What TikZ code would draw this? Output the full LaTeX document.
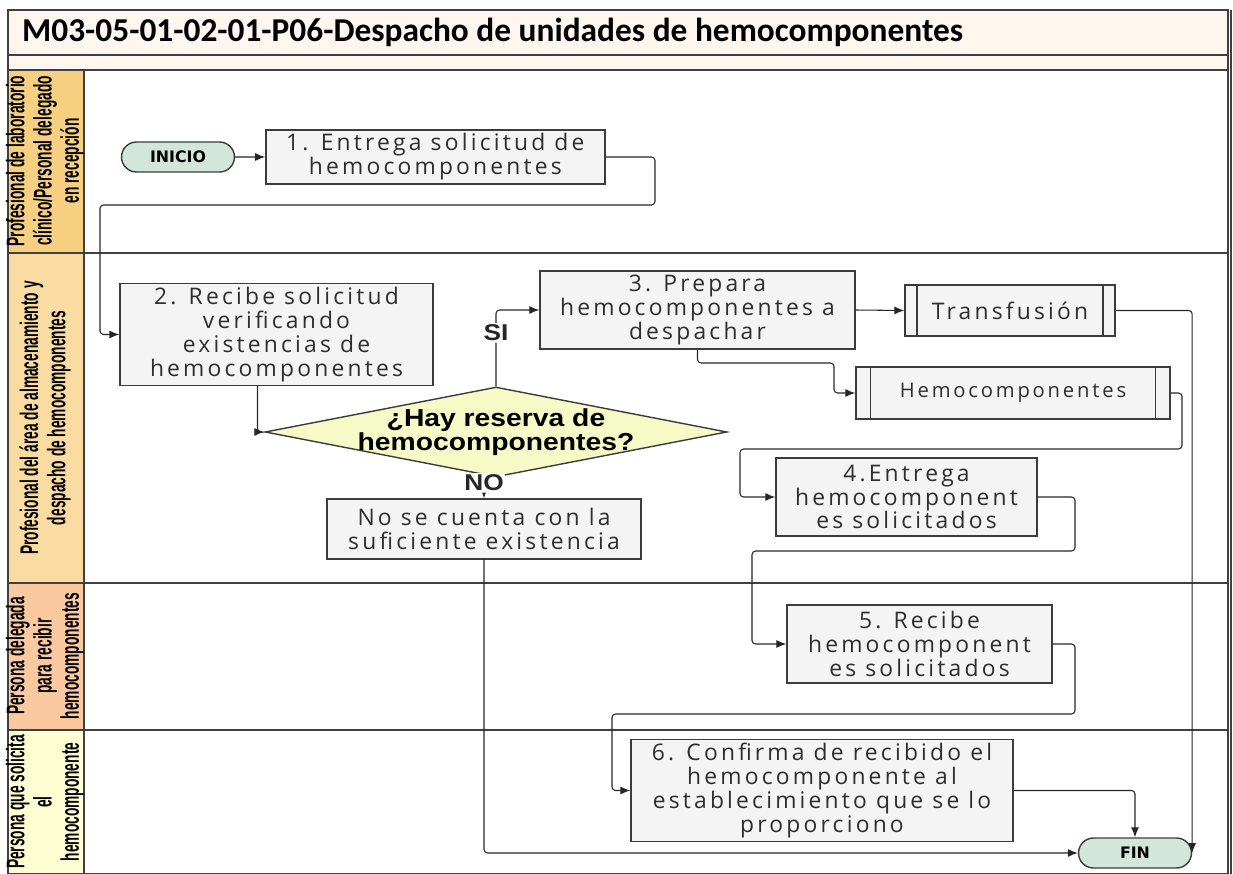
\documentclass[tikz,border=0pt]{standalone}
\usepackage{fontspec}
\setmainfont{Open Sans}
\newfontfamily\boxfont[LetterSpace=14]{Open Sans}
\newfontfamily\titlefont{Carlito}
\newfontfamily\lanefont[FakeStretch=0.54]{Liberation Sans}
\newfontfamily\decfont[FakeStretch=1.15]{Liberation Sans}
\newfontfamily\termfont{DejaVu Sans}
\usetikzlibrary{shapes.geometric, shapes.misc, arrows.meta, positioning, calc}
\definecolor{titlebg}{HTML}{FFF7EF}
\definecolor{laneone}{HTML}{F6CF80}
\definecolor{lanetwo}{HTML}{FADCA2}
\definecolor{lanethree}{HTML}{FBC9A0}
\definecolor{lanefour}{HTML}{FEFED2}
\definecolor{boxfill}{HTML}{F4F4F4}
\definecolor{boxline}{HTML}{3C3C3C}
\definecolor{decfill}{HTML}{F6FAC6}
\definecolor{termfill}{HTML}{D3E6DC}
\definecolor{boxtext}{HTML}{2E2E2E}

\begin{document}
\begin{tikzpicture}[
  x=0.02cm, y=-0.02cm,
  procbox/.style={
    rectangle, draw=boxline, fill=boxfill, line width=0.8pt,
    align=center, inner sep=2pt, text=boxtext,
    font=\boxfont\fontsize{13}{13.6}\selectfont
  },
  subproc/.style={procbox},
  termbox/.style={
    rounded rectangle, draw=boxline, fill=termfill, line width=0.8pt,
    minimum width=2.4cm, minimum height=0.6cm, inner sep=2pt,
    font=\termfont\bfseries\fontsize{9}{10}\selectfont
  },
  decbox/.style={
    diamond, draw=boxline, fill=decfill, line width=0.8pt, inner sep=0pt,
    minimum width=9.24cm, minimum height=1.8cm
  },
  lanelabel/.style={rotate=90, align=center, font=\lanefont\bfseries\fontsize{14.5}{15.5}\selectfont},
  answer/.style={fill=white, inner sep=1pt, font=\decfont\bfseries\fontsize{13}{14}\selectfont},
  arr/.style={-{Latex[length=2mm, width=1.6mm]}, black!85, line width=0.6pt, rounded corners=2pt},
  sepline/.style={draw=black!75, line width=0.6pt},
]
% Frame, title and lanes
\path[use as bounding box] (0,0) rectangle (1233,874);
\fill[titlebg] (8,10) rectangle (1228,70);
\fill[laneone] (8,70) rectangle (84,253);
\fill[lanetwo] (8,253) rectangle (84,583);
\fill[lanethree] (8,583) rectangle (84,730);
\fill[lanefour] (8,730) rectangle (84,874);
\draw[sepline] (8,10) rectangle (1228,874);
\draw[sepline] (8,55) -- (1228,55);
\draw[sepline] (8,70) -- (1228,70);
\draw[sepline] (84,70) -- (84,874);
\draw[sepline] (1231,10) -- (1231,874);
\draw[sepline] (8,253) -- (1228,253);
\draw[sepline] (8,583) -- (1228,583);
\draw[sepline] (8,730) -- (1228,730);

\node[anchor=west, font=\titlefont\bfseries\fontsize{19}{22}\selectfont] (title) at (16,32)
  {M03-05-01-02-01-P06-Despacho de unidades de hemocomponentes};

\node[lanelabel] (lane1) at (45,161) {Profesional de laboratorio\\clínico/Personal delegado\\en recepción};
\node[lanelabel] (lane2) at (45,418) {Profesional del área de almacenamiento y\\despacho de hemocomponentes};
\node[lanelabel] (lane3) at (45,656) {Persona delegada\\para recibir\\hemocomponentes};
\node[lanelabel] (lane4) at (45,802) {Persona que solicita\\el\\hemocomponente};

% Lane 1
\node[termbox] (inicio) at (178,157) {INICIO};
\node[procbox, minimum width=6.78cm, minimum height=1.06cm, right=0.6cm of inicio] (entrega)
  {1. Entrega solicitud de\\hemocomponentes};

% Lane 2
\node[procbox, minimum width=6.26cm, minimum height=1.94cm] (recibe) at (276.5,334.5)
  {2. Recibe solicitud\\verificando\\existencias de\\hemocomponentes};
\node[decbox, label={[font=\decfont\bfseries\fontsize{14}{13}\selectfont, align=center]center:¿Hay reserva de\\hemocomponentes?}] (reserva) at (496,432) {};
\node[procbox, minimum width=6.28cm, minimum height=1.2cm] (nose) at (484,529)
  {No se cuenta con la\\suficiente existencia};
\node[procbox, minimum width=6.3cm, minimum height=1.56cm] (prepara) at (697.5,310)
  {3. Prepara\\hemocomponentes a\\despachar};
\node[subproc, minimum width=4.2cm, minimum height=1.02cm] (transf) at (1010,310.5) {Transfusión};
\node[subproc, minimum width=6.28cm, minimum height=1.04cm] (hemo) at (1013,393)
  {\fontsize{11.5}{12}\selectfont Hemocomponentes};
\node[procbox, minimum width=5.22cm, minimum height=1.56cm] (entrega4) at (906.5,497)
  {4.Entrega\\hemocomponent\\es solicitados};

% Lane 3
\node[procbox, minimum width=5.3cm, minimum height=1.56cm] (recibe5) at (919.5,644)
  {5. Recibe\\hemocomponent\\es solicitados};

% Lane 4
\node[procbox, minimum width=7.64cm, minimum height=1.98cm] (confirma) at (822,790.5)
  {6. Confirma de recibido el\\hemocomponente al\\establecimiento que se lo\\proporciono};
\node[termbox] (fin) at (1135,853) {FIN};

% inner bars of the sub-process boxes
\foreach \sp/\gap in {transf/0.25cm, hemo/0.3cm} {
  \draw[draw=boxline, line width=0.8pt] ([xshift=\gap]\sp.north west) -- ([xshift=\gap]\sp.south west);
  \draw[draw=boxline, line width=0.8pt] ([xshift=-\gap]\sp.north east) -- ([xshift=-\gap]\sp.south east);
}

% Connectors
\draw[arr] (inicio) -- (entrega);
\draw[arr] (entrega.east) -| (655,205) -- (100,205) |- (recibe.west);
\draw[arr] ([xshift=-0.38cm]recibe.south) |- (reserva.west);
\draw[arr] (reserva.north) |- node[answer, pos=0.35] {SI} (prepara.west);
\draw[arr] (reserva.south -| nose.north) -- node[answer, pos=0.25] {NO} (nose.north);
\draw[arr] (nose.south) |- (fin.west);
\draw[arr] (prepara.east) -- (transf.west);
\draw[arr] (transf.east) -| (fin.east);
\draw[arr] (prepara.south) |- (834,363) |- (hemo.west);
\draw[arr] (hemo.east) -| (1182,449) -- (740,449) |- (entrega4.west);
\draw[arr] (entrega4.east) -| (1075,551) -- (752,551) |- (recibe5.west);
\draw[arr] (recibe5.east) -| (1075,714) -- (612,714) |- (confirma.west);
\draw[arr] (confirma.east) -| (fin.north);
\end{tikzpicture}
\end{document}
